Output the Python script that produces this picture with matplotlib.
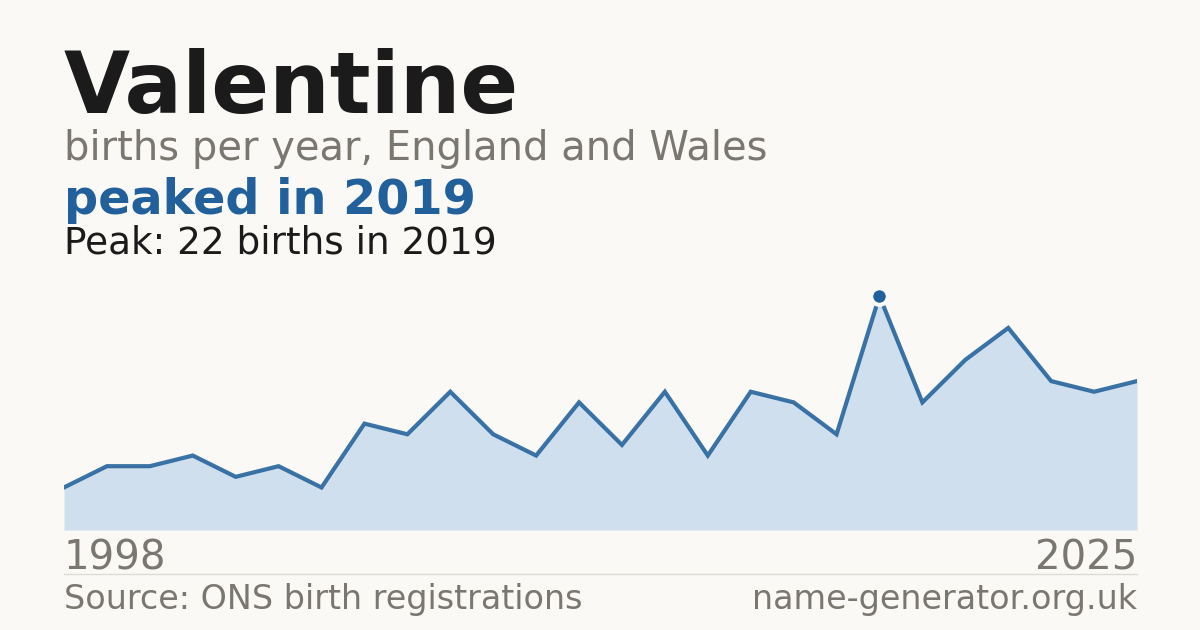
import matplotlib
matplotlib.use('Agg')
import matplotlib.pyplot as plt

plt.rcParams['font.family'] = ['DejaVu Sans']

# births per year (two early years have no published count)
years = [1998, 1999, 2000, 2001, 2003, 2004, 2005, 2006, 2007, 2008, 2010, 2011, 2012,
         2013, 2014, 2015, 2016, 2017, 2018, 2019, 2020, 2021, 2022, 2023, 2024, 2025]
births = [4, 6, 6, 7, 5, 6, 4, 10, 9, 13, 9, 7, 12, 8, 13, 7, 13, 12, 9, 22, 12, 16, 19, 14, 13, 14]

NAME = 'Valentine'
SUBTITLE = 'births per year, England and Wales'
SOURCE = 'Source: ONS birth registrations'
SITE = 'name-generator.org.uk'

BG = '#faf9f5'
BLUE = '#21609a'
FILL = '#cfdfee'
GREY = '#7a7670'
INK = '#1b1b1b'

W, H = 1200, 630


def fx(px):
    return px / W


def fy(py):
    return 1 - py / H


peak_i = max(range(len(births)), key=lambda i: births[i])
peak_year = years[peak_i]
peak_val = births[peak_i]

fig = plt.figure(figsize=(12, 6.3), dpi=100, facecolor=BG)

# plot area: baseline at y=530, 22 births at y=296
left, right, bottom, top = 64, 1137, 530, 280
ax = fig.add_axes([fx(left), fy(bottom), fx(right - left), (bottom - top) / H])
ax.set_facecolor(BG)
px_per_unit = (530 - 296) / peak_val
xs = list(range(len(births)))
ax.fill_between(xs, births, 0, color=FILL, lw=0, zorder=1)
ax.plot(xs, births, color=BLUE, lw=3.0, alpha=0.88, solid_joinstyle='miter', zorder=2)
ax.plot([peak_i], [peak_val], 'o', ms=12, color=BLUE, mec=BG, mew=3, zorder=3)
ax.set_xlim(0, len(births) - 1)
ax.set_ylim(0, (bottom - top) / px_per_unit)
ax.axis('off')

# header
fig.text(fx(64), fy(113), NAME, fontsize=61.5, fontweight='bold', color=INK, va='baseline')
fig.text(fx(64), fy(160), SUBTITLE, fontsize=28.8, color=GREY, va='baseline')
fig.text(fx(64), fy(214), f'peaked in {peak_year}', fontsize=34.4, fontweight='bold',
         color=BLUE, va='baseline')
fig.text(fx(64), fy(253), f'Peak: {peak_val} births in {peak_year}', fontsize=26.9,
         color=INK, va='baseline')

# axis end labels
fig.text(fx(64), fy(570), str(years[0]), fontsize=29, color=GREY, va='baseline')
fig.text(fx(1137), fy(570), str(years[-1]), fontsize=29, color=GREY, va='baseline', ha='right')

# separator + footer
fig.add_artist(plt.Line2D([fx(64), fx(1137)], [fy(574), fy(574)], color='#dddbd5', lw=1))
fig.text(fx(64), fy(609), SOURCE, fontsize=24, color=GREY, va='baseline')
fig.text(fx(1137), fy(609), SITE, fontsize=24, color=GREY, va='baseline', ha='right')

fig.savefig('out.png', dpi=100, facecolor=BG)
